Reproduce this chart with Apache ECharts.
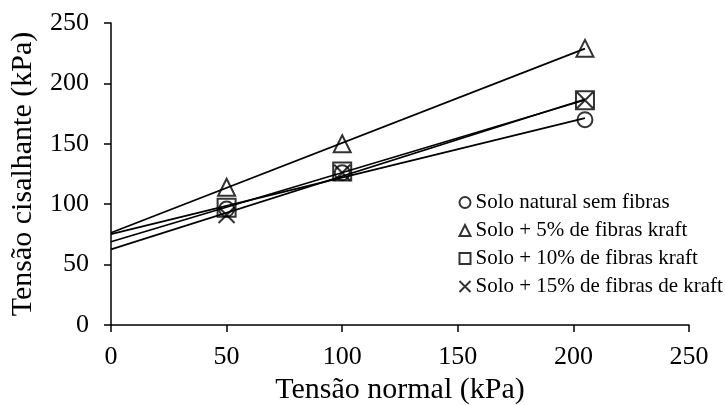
<!DOCTYPE html>
<html><head><meta charset="utf-8">
<script src="https://cdn.jsdelivr.net/npm/echarts@6/dist/echarts.min.js"></script>
<style>html,body{margin:0;padding:0;background:#fff}#c{width:725px;height:405px}</style>
</head><body><div id="c"></div>
<script>
var normalStress = [50, 100, 205];
var seriesNames = ['Solo natural sem fibras', 'Solo + 5% de fibras kraft', 'Solo + 10% de fibras kraft', 'Solo + 15% de fibras de kraft'];
var natural = [96, 126, 170];
var fiber5 = [114, 150, 229];
var fiber10 = [97, 127, 186];
var fiber15 = [91, 126, 186];
var xTicks = [0, 50, 100, 150, 200, 250];
var yTicks = [0, 50, 100, 150, 200, 250];

var FONT = '"Liberation Serif", "Times New Roman", serif';
var xPath = 'path://M0,0L10,10M10,0L0,10';
var symbols = ['circle', 'triangle', 'rect', xPath];
var sizes = [15, 17, 18, 16];
var allY = [natural, fiber5, fiber10, fiber15];

function fit(xs, ys) {
  var n = xs.length, mx = 0, my = 0;
  for (var i = 0; i < n; i++) { mx += xs[i]; my += ys[i]; }
  mx /= n; my /= n;
  var sxy = 0, sxx = 0;
  for (var i = 0; i < n; i++) { sxy += (xs[i]-mx)*(ys[i]-my); sxx += (xs[i]-mx)*(xs[i]-mx); }
  var a = sxy / sxx, b = my - a*mx;
  return [[0, b], [xs[n-1], a*xs[n-1] + b]];
}

var series = [];
allY.forEach(function (ys, k) {
  series.push({
    type: 'line', data: fit(normalStress, ys), symbol: 'none', silent: true,
    lineStyle: { color: '#000', width: 1.7 }, z: 2
  });
});
allY.forEach(function (ys, k) {
  series.push({
    name: seriesNames[k], type: 'scatter',
    data: normalStress.map(function (x, i) { return [x, ys[i]]; }),
    symbol: symbols[k], symbolSize: sizes[k],
    itemStyle: { color: 'none', borderColor: '#000', borderWidth: 2 }, z: 3
  });
});

var chart = echarts.init(document.getElementById('c'), null, { renderer: 'canvas' });
chart.setOption({
  animation: false,
  backgroundColor: '#fff',
  grid: { left: 111, right: 36, top: 23, bottom: 80, containLabel: false, outerBoundsMode: 'none' },
  legend: {
    orient: 'vertical', left: 452, top: 187, itemGap: 7,
    itemWidth: 11, itemHeight: 11,
    data: seriesNames,
    textStyle: { fontFamily: FONT, fontSize: 21, color: '#000' },
    itemStyle: { color: 'none', borderColor: '#000', borderWidth: 2 }
  },
  xAxis: {
    type: 'value', min: xTicks[0], max: xTicks[xTicks.length-1], interval: 50,
    name: 'Tensão normal (kPa)', nameLocation: 'middle', nameGap: 45,
    nameTextStyle: { fontFamily: FONT, fontSize: 30, color: '#000' },
    axisLine: { show: true, lineStyle: { color: '#000', width: 1.5 } },
    axisTick: { show: true, length: 7, lineStyle: { color: '#000', width: 1.5 } },
    axisLabel: { fontFamily: FONT, fontSize: 26, color: '#000', margin: 19 },
    splitLine: { show: false }
  },
  yAxis: {
    type: 'value', min: yTicks[0], max: yTicks[yTicks.length-1], interval: 50,
    name: 'Tensão cisalhante (kPa)', nameLocation: 'middle', nameGap: 73,
    nameTextStyle: { fontFamily: FONT, fontSize: 30, color: '#000' },
    axisLine: { show: true, lineStyle: { color: '#000', width: 1.5 } },
    axisTick: { show: true, length: 7, lineStyle: { color: '#000', width: 1.5 } },
    axisLabel: { fontFamily: FONT, fontSize: 26, color: '#000', margin: 22 },
    splitLine: { show: false }
  },
  series: series
});
</script></body></html>
